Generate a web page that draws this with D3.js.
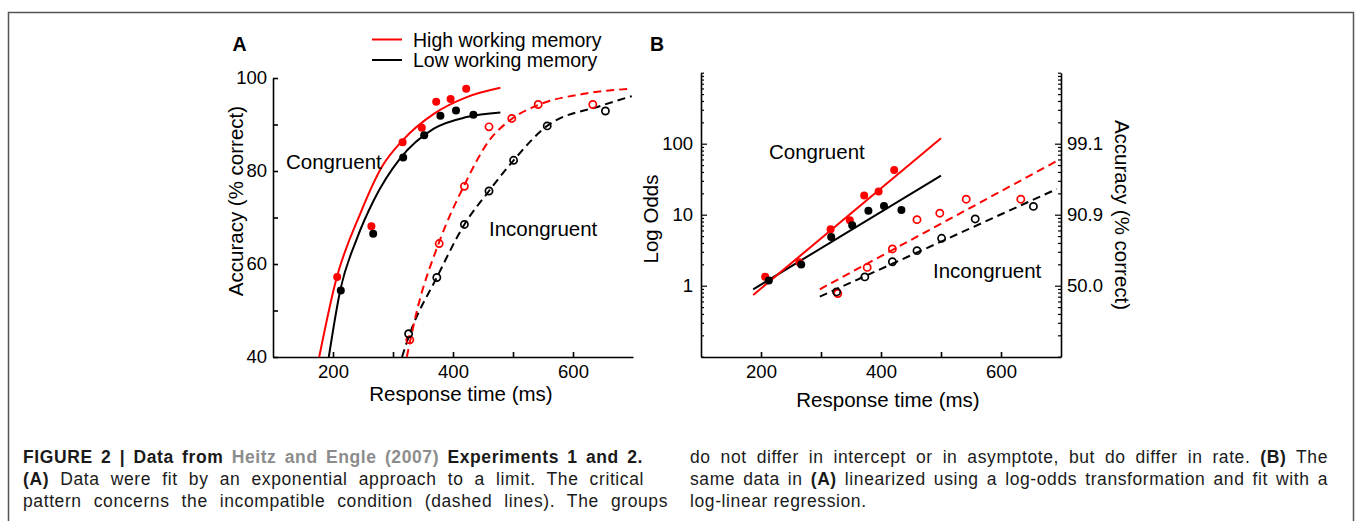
<!DOCTYPE html>
<html>
<head>
<meta charset="utf-8">
<script src="https://cdn.jsdelivr.net/npm/d3@7"></script>
<style>
body { margin: 0; background: #fff; }
svg { display: block; font-family: "Liberation Sans", Arial, sans-serif; }
</style>
</head>
<body>
<svg id="fig" width="1355" height="521"></svg>
<script>
// points: response time (ms) and accuracy (% correct)
const highConRT = [207, 264, 316, 348, 372, 396, 422];
const highConAcc = [57.2, 68.1, 86.2, 89.3, 94.9, 95.5, 97.7];
const lowConRT = [213, 267, 317, 352, 379, 405, 434];
const lowConAcc = [54.3, 66.5, 82.9, 87.7, 91.9, 93.0, 92.1];
const highIncRT = [328, 377, 419, 460, 498, 542, 633];
const highIncAcc = [43.7, 64.4, 76.7, 89.5, 91.3, 94.3, 94.3];
const lowIncRT = [326, 373, 419, 460, 501, 557, 654];
const lowIncAcc = [45.0, 57.1, 68.5, 75.7, 82.3, 89.7, 92.9];

// fitted curves in A [rt, accuracy]
const fitHighConA = [[177, 40], [205, 56.5], [246, 71], [282, 81], [316, 86.6], [368, 92.3], [423, 95.9], [479, 97.9]];
const fitLowConA = [[193, 40], [212, 54.3], [240, 65.5], [268, 73.7], [312, 82.7], [368, 89.1], [423, 91.6], [479, 92.6]];
const fitHighIncA = [[323, 40], [340, 50], [376, 64.4], [419, 77], [460, 86.5], [498, 91.2], [542, 94.2], [618, 96.6], [698, 97.7]];
const fitLowIncA = [[315, 40], [328, 45], [373, 57.1], [419, 68.5], [460, 75.7], [501, 82.3], [557, 89.7], [646, 94], [698, 96.1]];

// fitted lines in B [rt, odds]
const fitHighConB = [[187, 0.74], [500, 119]];
const fitLowConB = [[187, 0.89], [500, 35.5]];
const fitHighIncB = [[298, 0.89], [693, 57]];
const fitLowIncB = [[298, 0.70], [693, 23]];

// ticks
const rtTicks = [200, 300, 400, 500, 600];
const rtLabels = [200, 400, 600];
const accTicks = [40, 50, 60, 70, 80, 90, 100];
const accLabels = [40, 60, 80, 100];
const oddsLabels = [1, 10, 100];
const oddsAccLabels = ['50.0', '90.9', '99.1'];

const legendNames = ['High working memory', 'Low working memory'];

const red = '#f00';
const svg = d3.select('#fig');

// outer frame of the figure
svg.append('path')
	.attr('d', 'M8.5,530V12.5H1353.5V530')
	.attr('fill', 'none').attr('stroke', '#555').attr('stroke-width', 1.5);

function styleAxis(g, fs) {
	g.attr('font-size', fs).attr('font-family', '"Liberation Sans", Arial, sans-serif');
	g.selectAll('path, line').attr('stroke', '#000').attr('stroke-width', 1.6);
	g.selectAll('text').attr('fill', '#000');
}

const toPts = (rt, acc) => rt.map((t, i) => [t, acc[i]]);
const odds = p => p / (100 - p);

// ---------- panel A ----------
const xA = d3.scaleLinear().domain([100, 700]).range([273, 633]);
const yA = d3.scaleLinear().domain([40, 100]).range([357, 78]);

svg.append('g')
	.attr('transform', 'translate(0,357)')
	.call(d3.axisBottom(xA).tickValues(rtTicks)
		.tickFormat(d => rtLabels.includes(d) ? d : '')
		.tickSizeInner(-5).tickSizeOuter(0).tickPadding(8))
	.call(g => styleAxis(g, 18.5));

svg.append('g')
	.attr('transform', 'translate(273,0)')
	.call(d3.axisLeft(yA).tickValues(accTicks)
		.tickFormat(d => accLabels.includes(d) ? d : '')
		.tickSizeInner(-5).tickSizeOuter(0).tickPadding(6))
	.call(g => styleAxis(g, 18.5));

const lineA = d3.line().x(d => xA(d[0])).y(d => yA(d[1])).curve(d3.curveMonotoneX);

function drawCurve(data, gen, color, dashed) {
	svg.append('path').datum(data)
		.attr('d', gen)
		.attr('fill', 'none')
		.attr('stroke', color)
		.attr('stroke-width', 2)
		.attr('stroke-dasharray', dashed ? '8,5' : null);
}

function drawDots(data, xs, ys, color, open) {
	svg.append('g').selectAll('circle')
		.data(data)
		.enter()
		.append('circle')
		.attr('cx', d => xs(d[0]))
		.attr('cy', d => ys(d[1]))
		.attr('r', open ? 3.6 : 4)
		.attr('fill', open ? 'none' : color)
		.attr('stroke', open ? color : 'none')
		.attr('stroke-width', 1.7);
}

drawCurve(fitLowConA, lineA, '#000', false);
drawCurve(fitHighConA, lineA, red, false);
drawCurve(fitLowIncA, lineA, '#000', true);
drawCurve(fitHighIncA, lineA, red, true);

drawDots(toPts(highConRT, highConAcc), xA, yA, red, false);
drawDots(toPts(lowConRT, lowConAcc), xA, yA, '#000', false);
drawDots(toPts(highIncRT, highIncAcc), xA, yA, red, true);
drawDots(toPts(lowIncRT, lowIncAcc), xA, yA, '#000', true);

// ---------- panel B ----------
const xB = d3.scaleLinear().domain([100, 700]).range([701, 1061]);
const yB = d3.scaleLog().domain([0.1, 1000]).range([356.7, 72.7]);
const logTicks = yB.ticks();

svg.append('g')
	.attr('transform', 'translate(0,357)')
	.call(d3.axisBottom(xB).tickValues(rtTicks)
		.tickFormat(d => rtLabels.includes(d) ? d : '')
		.tickSizeInner(-5).tickSizeOuter(0).tickPadding(8))
	.call(g => styleAxis(g, 18.5));

const leftB = svg.append('g')
	.attr('transform', 'translate(701,0)')
	.call(d3.axisLeft(yB).tickValues(logTicks)
		.tickFormat(d => oddsLabels.includes(d) ? d : '')
		.tickSizeInner(-3).tickSizeOuter(0).tickPadding(8))
	.call(g => styleAxis(g, 18.5));
leftB.selectAll('.tick line').filter(d => oddsLabels.includes(d)).attr('x2', 6);
leftB.selectAll('.tick line').attr('stroke-width', 1.2);

const rightB = svg.append('g')
	.attr('transform', 'translate(1061,0)')
	.call(d3.axisRight(yB).tickValues(logTicks)
		.tickFormat(d => oddsLabels.includes(d) ? oddsAccLabels[oddsLabels.indexOf(d)] : '')
		.tickSizeInner(-3).tickSizeOuter(0).tickPadding(6))
	.call(g => styleAxis(g, 18.5));
rightB.selectAll('.tick line').filter(d => oddsLabels.includes(d)).attr('x2', -6);
rightB.selectAll('.tick line').attr('stroke-width', 1.2);

const lineB = d3.line().x(d => xB(d[0])).y(d => yB(d[1]));

drawCurve(fitLowConB, lineB, '#000', false);
drawCurve(fitHighConB, lineB, red, false);
drawCurve(fitLowIncB, lineB, '#000', true);
drawCurve(fitHighIncB, lineB, red, true);

const toOdds = (rt, acc) => rt.map((t, i) => [t, odds(acc[i])]);
drawDots(toOdds(highConRT, highConAcc), xB, yB, red, false);
drawDots(toOdds(lowConRT, lowConAcc), xB, yB, '#000', false);
drawDots(toOdds(highIncRT, highIncAcc), xB, yB, red, true);
drawDots(toOdds(lowIncRT, lowIncAcc), xB, yB, '#000', true);

// ---------- labels ----------
function label(txt, x, y, opts = {}) {
	const t = svg.append('text')
		.attr('x', x).attr('y', y)
		.attr('font-size', opts.size || 20.5)
		.attr('font-weight', opts.bold ? 'bold' : null)
		.attr('text-anchor', opts.anchor || 'middle')
		.attr('dominant-baseline', 'central')
		.text(txt);
	if (opts.rot) t.attr('transform', `rotate(${opts.rot},${x},${y})`);
	return t;
}

label('A', 239.5, 44, { bold: true, size: 19.5 });
label('B', 657, 44, { bold: true, size: 19.5 });

label('Accuracy (% correct)', 235, 201, { rot: -90 });
label('Response time (ms)', 461, 393);
label('Congruent', 286, 161, { anchor: 'start' });
label('Incongruent', 489, 228, { anchor: 'start' });

label('Log Odds', 650, 219, { rot: -90 });
label('Accuracy (% correct)', 1122, 215, { rot: 90 });
label('Response time (ms)', 888, 399);
label('Congruent', 769, 151, { anchor: 'start' });
label('Incongruent', 933, 270, { anchor: 'start' });

// legend
const legend = svg.append('g');
legendNames.forEach((name, i) => {
	const y = 39.5 + i * 20.5;
	legend.append('line')
		.attr('x1', 372).attr('x2', 402).attr('y1', y).attr('y2', y)
		.attr('stroke', i === 0 ? red : '#000').attr('stroke-width', 2);
	legend.append('text')
		.attr('x', 413).attr('y', y)
		.attr('font-size', 19.5)
		.attr('dominant-baseline', 'central')
		.text(name);
});

// ---------- caption ----------
const capLeft = [
	[['FIGURE 2 | Data from ', 'b'], ['Heitz and Engle (2007)', 'g'], [' Experiments 1 and 2.', 'b']],
	[['(A)', 'b'], [' Data were fit by an exponential approach to a limit. The critical', '']],
	[['pattern concerns the incompatible condition (dashed lines). The groups', '']]
];
const capRight = [
	[['do not differ in intercept or in asymptote, but do differ in rate. ', ''], ['(B)', 'b'], [' The', '']],
	[['same data in ', ''], ['(A)', 'b'], [' linearized using a log-odds transformation and fit with a', '']],
	[['log-linear regression.', '']]
];

// x0 and right edge of each line
function caption(lines, x0, ends) {
	lines.forEach((segs, i) => {
		const t = svg.append('text')
			.attr('x', x0).attr('y', 463 + i * 22)
			.attr('font-size', 17.5)
			.attr('font-family', '"Liberation Sans", Arial, sans-serif')
			.style('letter-spacing', '0.6px')
			.style('white-space', 'pre');
		segs.forEach(s => {
			t.append('tspan')
				.attr('font-weight', s[1] ? 'bold' : null)
				.attr('fill', s[1] === 'g' ? '#8c8c8c' : '#1a1a1a')
				.text(s[0]);
		});
		if (ends[i]) {
			const w = t.node().getComputedTextLength();
			const spaces = segs.map(s => s[0]).join('').split(' ').length - 1;
			const target = ends[i] - x0;
			if (w < target) {
				t.style('word-spacing', ((target - w) / spaces) + 'px');
			} else {
				t.attr('textLength', target).attr('lengthAdjust', 'spacingAndGlyphs');
			}
		}
	});
}

caption(capLeft, 23, [643, 644, 668]);
caption(capRight, 690, [1328, 1328, null]);
</script>
</body>
</html>
